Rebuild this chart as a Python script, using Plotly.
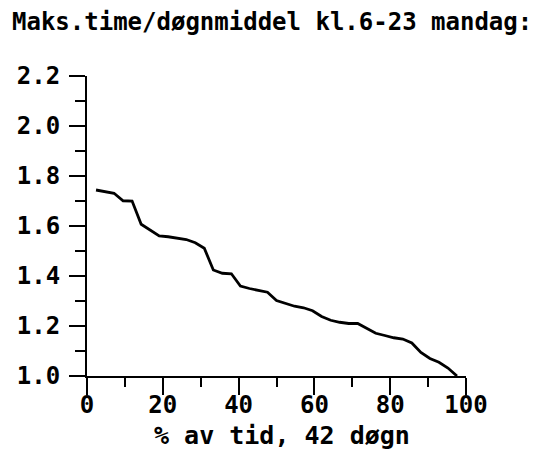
import plotly.graph_objects as go

pct_time = [2.38, 4.76, 7.14, 9.52, 11.90, 14.29, 16.67, 19.05, 21.43, 23.81,
            26.19, 28.57, 30.95, 33.33, 35.71, 38.10, 40.48, 42.86, 45.24, 47.62,
            50.00, 52.38, 54.76, 57.14, 59.52, 61.90, 64.29, 66.67, 69.05, 71.43,
            73.81, 76.19, 78.57, 80.95, 83.33, 85.71, 88.10, 90.48, 92.86, 95.24,
            97.62]
ratio = [1.744, 1.738, 1.731, 1.701, 1.700, 1.607, 1.582, 1.560, 1.557, 1.551,
         1.546, 1.533, 1.511, 1.424, 1.411, 1.409, 1.360, 1.350, 1.342, 1.335,
         1.302, 1.289, 1.279, 1.273, 1.261, 1.238, 1.223, 1.215, 1.210, 1.210,
         1.192, 1.171, 1.162, 1.153, 1.148, 1.132, 1.094, 1.070, 1.055, 1.032,
         1.000]

title_text = "Maks.time/døgnmiddel kl.6-23 mandag:"
x_title = "% av tid, 42 døgn"
x_ticks = [0, 20, 40, 60, 80, 100]
y_ticks = [1.0, 1.2, 1.4, 1.6, 1.8, 2.0, 2.2]

FONT = "DejaVu Sans Mono"
FS = 24
W, H = 545, 442          # page body has an 8px default margin
ML, MR, MT, MB = 79, 87, 68, 74
plot_h = H - MT - MB
plot_w = W - ML - MR

fig = go.Figure()
fig.add_trace(go.Scatter(x=pct_time, y=ratio, mode="lines",
                         line=dict(color="black", width=2.8),
                         showlegend=False))

fig.update_layout(
    width=W, height=H,
    paper_bgcolor="white", plot_bgcolor="white",
    margin=dict(l=ML, r=MR, t=MT, b=MB, autoexpand=False),
    font=dict(family=FONT, size=FS, color="black", weight="bold"),
    title=dict(text=title_text, x=4/W, xanchor="left", xref="container",
               y=1 - 14/H, yanchor="middle", yref="container",
               font=dict(family=FONT, size=FS, color="black", weight="bold")),
    annotations=[dict(text=x_title, xref="paper", yref="paper",
                      x=(274 - ML)/plot_w, y=(H - MB - 427)/plot_h,
                      xanchor="center", yanchor="middle", showarrow=False,
                      font=dict(family=FONT, size=25, color="black", weight="bold"))],
)
fig.update_xaxes(
    range=[0, 100], tickvals=x_ticks, ticktext=[str(v) for v in x_ticks],
    showline=True, linecolor="black", linewidth=2, showgrid=False, zeroline=False,
    ticks="outside", ticklen=17, tickwidth=2, tickcolor="black",
    minor=dict(ticks="outside", ticklen=9, tickwidth=2, tickcolor="black", dtick=10, tick0=0, showgrid=False),
    ticklabelstandoff=-11, automargin=False,
)
fig.update_yaxes(
    range=[1.0, 2.2], tickvals=y_ticks, ticktext=[f"{v:.1f}" for v in y_ticks],
    showline=True, linecolor="black", linewidth=2, showgrid=False, zeroline=False,
    ticks="outside", ticklen=16, tickwidth=2, tickcolor="black",
    minor=dict(ticks="outside", ticklen=10, tickwidth=2, tickcolor="black", dtick=0.1, tick0=1.0, showgrid=False),
    ticklabelstandoff=4, automargin=False,
)

fig.write_html("out.html")
